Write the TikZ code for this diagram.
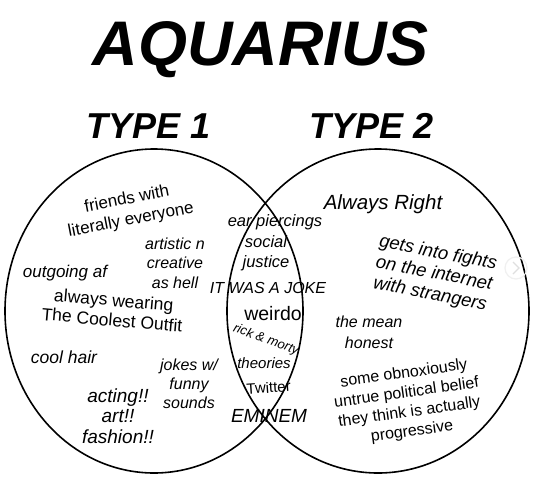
\documentclass[tikz,border=0pt]{standalone}
\usepackage{fontspec}
\setmainfont{Liberation Sans}
\begin{document}
\begin{tikzpicture}[x=1pt,y=-1pt,
  txt/.style 2 args={inner sep=0pt, align=center, font=\fontsize{#1}{#2}\selectfont},
  itx/.style 2 args={inner sep=0pt, align=center, font=\fontsize{#1}{#2}\selectfont\itshape},
  ring/.style={draw=black, line width=1.6pt}]
\useasboundingbox (0,0) rectangle (536,480);
\fill[white] (0,0) rectangle (536,480);
% titles
\node[inner sep=0pt, anchor=base, font=\fontsize{63}{63}\selectfont\bfseries\itshape] (title) at (261,65) {AQUARIUS};
\node[inner sep=0pt, anchor=base, font=\fontsize{36}{36}\selectfont\bfseries\itshape] (t1) at (149,138) {TYPE 1};
\node[inner sep=0pt, anchor=base, font=\fontsize{36}{36}\selectfont\bfseries\itshape] (t2) at (372,138) {TYPE 2};
% circles
\draw[ring] (154,311) ellipse [x radius=149, y radius=162];
\draw[ring] (378,311) ellipse [x radius=151, y radius=162];
% faint carousel arrow
\draw[gray!12, line width=1.2pt] (516,268) circle [radius=11];
\draw[gray!25, line width=1.2pt] (513,262) -- (519,268) -- (513,274);
% type 1
\node[txt={17}{21}, rotate=11] (friends) at (129,210) {friends with\\literally everyone};
\node[itx={16}{19.5}] (artistic) at (175,263) {artistic n\\creative\\as hell};
\node[itx={17}{20}, anchor=base] (outgoing) at (65,277) {outgoing af};
\node[txt={17.5}{20}, rotate=-5] (wearing) at (113,310) {always wearing\\The Coolest Outfit};
\node[itx={17.5}{20}, anchor=base] (hair) at (64,363) {cool hair};
\node[itx={16}{19}] (jokes) at (189,384) {jokes w/\\funny\\sounds};
\node[itx={19}{20.5}] (acting) at (118,416) {acting!!\\art!!\\fashion!!};
% intersection
\node[itx={16.5}{20}, anchor=base] (ear) at (275,226) {ear piercings};
\node[itx={16.5}{19.5}] (social) at (266,253) {social\\justice};
\node[itx={16}{20}, anchor=base] (joke) at (268,293) {IT WAS A JOKE};
\node[txt={19.5}{20}, anchor=base] (weirdo) at (273,320) {weirdo};
\node[itx={13}{15}, rotate=-20] (rick) at (266,340) {rick \& morty};
\node[itx={15}{18}, anchor=base] (theories) at (264,368) {theories};
\node[txt={15}{18}, anchor=base, rotate=4] (twitter) at (269,393) {Twitter};
\node[itx={19}{20}, anchor=base] (eminem) at (269,422) {EMINEM};
% type 2
\node[itx={20.5}{22}, anchor=base] (right) at (383,209) {Always Right};
\node[itx={18.5}{21}, rotate=-11] (fights) at (434,274) {gets into fights\\on the internet\\with strangers};
\node[itx={16}{21}] (mean) at (369,332) {the mean\\honest};
\node[txt={16}{19.5}, rotate=8] (belief) at (408,403) {some obnoxiously\\untrue political belief\\they think is actually\\progressive};
\end{tikzpicture}
\end{document}
